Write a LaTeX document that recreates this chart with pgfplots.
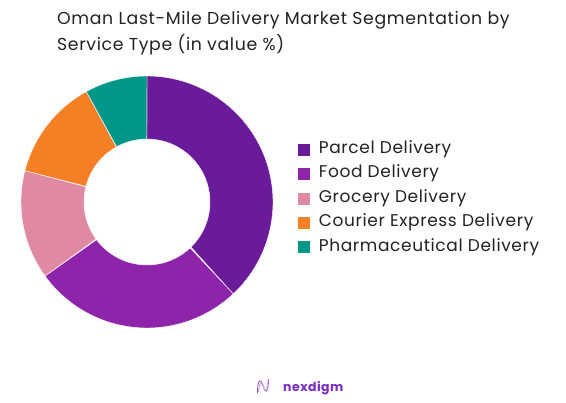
\documentclass[border=0pt]{standalone}
\usepackage{pgfplots}
\pgfplotsset{compat=1.18}
\usepackage{fontspec}
\setmainfont{Poppins}[LetterSpace=3.7]
\definecolor{cParcel}{HTML}{6A1B9A}
\definecolor{cFood}{HTML}{8E24AA}
\definecolor{cGrocery}{HTML}{DF89A3}
\definecolor{cCourier}{HTML}{F47F24}
\definecolor{cPharma}{HTML}{009688}
\definecolor{cTitle}{HTML}{222222}
\definecolor{cLogo}{HTML}{7B2CBF}

\gdef\cum{0}
% #1 share (%), #2 colour, #3 legend text
\newcommand\donutslice[3]{%
  \pgfmathsetmacro\aStart{90-3.6*\cum}%
  \pgfmathsetmacro\aEnd{90-3.6*(\cum+#1)}%
  \pgfmathsetmacro\newcum{\cum+#1}%
  \xdef\cum{\newcum}%
  \edef\doit{\noexpand\addplot[fill=#2, draw=white, line width=0.4pt,
     domain=0:2, samples=241, variable=\noexpand\t]
     ({\noexpand\t<1.001 ? cos(\aStart+(\aEnd-\aStart)*min(\noexpand\t,1)) : 0.5*cos(\aEnd+(\aStart-\aEnd)*(\noexpand\t-1))},
      {\noexpand\t<1.001 ? sin(\aStart+(\aEnd-\aStart)*min(\noexpand\t,1)) : 0.5*sin(\aEnd+(\aStart-\aEnd)*(\noexpand\t-1))}) -- cycle;}%
  \doit
  \addlegendentry{#3}%
}

\begin{document}
\begin{tikzpicture}
\useasboundingbox (0bp,0bp) rectangle (566bp,-403bp);
\node[anchor=base west, inner sep=0pt, text=cTitle, font=\fontsize{17.3bp}{20bp}\selectfont] at (57bp,-24.3bp) {Oman Last-Mile Delivery Market Segmentation by};
\node[anchor=base west, inner sep=0pt, text=cTitle, font=\fontsize{17.3bp}{20bp}\selectfont] at (57bp,-50.7bp) {Service Type (in value \%)};

\begin{axis}[
  at={(147bp,-202bp)}, anchor=center,
  scale only axis, width=252bp, height=252bp,
  xmin=-1, xmax=1, ymin=-1, ymax=1,
  hide axis, clip=false,
  legend cell align=left,
  legend style={at={(1.094,0.515)}, anchor=west, draw=none, fill=none,
    inner sep=0pt, row sep=8.4bp,
    font=\fontsize{17bp}{20bp}\selectfont, text=cTitle,
    nodes={inner sep=0pt, text height=12bp, text depth=4bp},
    /tikz/every odd column/.append style={column sep=8.6bp}},
  legend image code/.code={\fill[#1] (0bp,-6.5bp) rectangle (13bp,6.5bp);},
]
\donutslice{38}{cParcel}{Parcel Delivery}
\donutslice{27}{cFood}{Food Delivery}
\donutslice{14}{cGrocery}{Grocery Delivery}
\donutslice{13}{cCourier}{Courier Express Delivery}
\donutslice{8}{cPharma}{Pharmaceutical Delivery}
\end{axis}

% logo
\begin{scope}[line width=0.8pt]
\draw[cLogo!80] (257.5bp,-393bp) .. controls (257.5bp,-378bp) and (261bp,-378bp) .. (263bp,-386bp) .. controls (265bp,-394bp) and (268.5bp,-394bp) .. (268.5bp,-379bp);
\draw[cLogo!45] (258.5bp,-392bp) .. controls (259bp,-381bp) and (262bp,-381bp) .. (264bp,-387bp) .. controls (266bp,-393bp) and (268bp,-391bp) .. (268bp,-380bp);
\draw[cLogo!25] (259bp,-390bp) .. controls (260bp,-383bp) and (262bp,-384bp) .. (263.5bp,-388bp) .. controls (265bp,-391bp) and (267bp,-389bp) .. (267.5bp,-382bp);
\end{scope}
\node[anchor=base west, inner sep=0pt, text=cLogo, font=\fontsize{12.5bp}{16bp}\selectfont\bfseries] at (283bp,-391bp) {nexdigm};
\end{tikzpicture}
\end{document}
